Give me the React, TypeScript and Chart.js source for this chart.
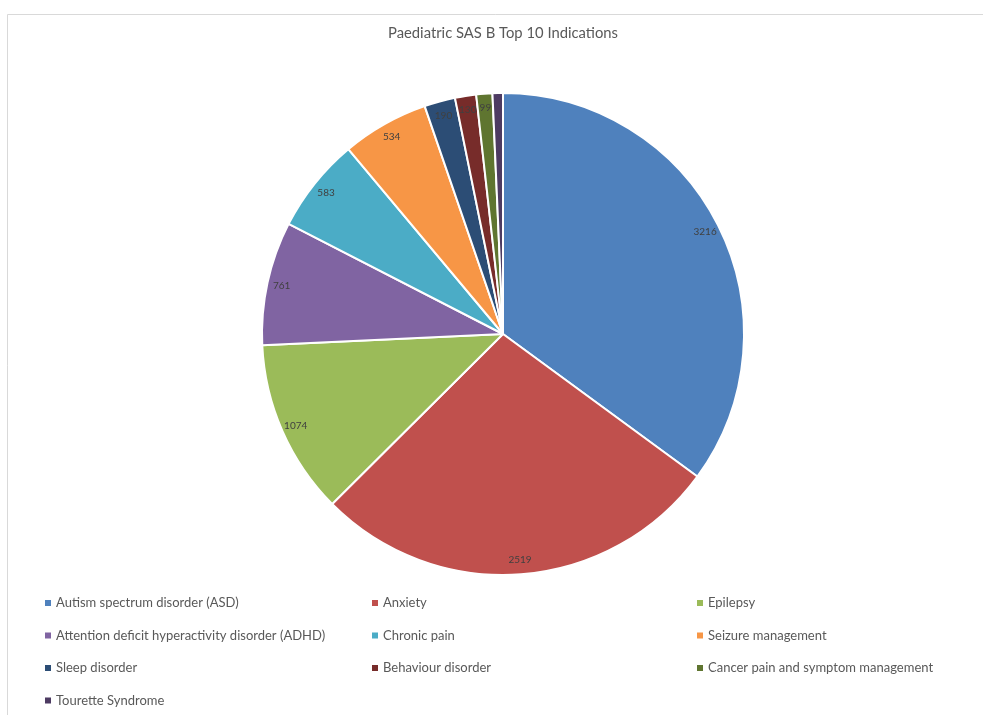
import React, { useEffect, useRef } from "react";
import { Chart, registerables } from "chart.js";

Chart.register(...registerables);

const TITLE = "Paediatric SAS B Top 10 Indications";
const categories = [
  "Autism spectrum disorder (ASD)",
  "Anxiety",
  "Epilepsy",
  "Attention deficit hyperactivity disorder (ADHD)",
  "Chronic pain",
  "Seizure management",
  "Sleep disorder",
  "Behaviour disorder",
  "Cancer pain and symptom management",
  "Tourette Syndrome",
];
const values = [3216, 2519, 1074, 761, 583, 534, 190, 130, 99, 64];
const colors = [
  "#4F81BD",
  "#C0504D",
  "#9BBB59",
  "#8064A2",
  "#4BACC6",
  "#F79646",
  "#2C4D75",
  "#772C2A",
  "#5F7530",
  "#4D3B62",
];
const showLabel = [true, true, true, true, true, true, true, true, true, false];

const FONT = "Lato, 'Open Sans', sans-serif";

const overlayPlugin = {
  id: "overlay",
  beforeDraw(chart: any) {
    const ctx = chart.ctx;
    ctx.save();
    ctx.fillStyle = "#ffffff";
    ctx.fillRect(0, 0, chart.width, chart.height);
    ctx.strokeStyle = "#d9d9d9";
    ctx.lineWidth = 1;
    ctx.beginPath();
    ctx.moveTo(7.5, chart.height + 2);
    ctx.lineTo(7.5, 14.5);
    ctx.lineTo(chart.width + 2, 14.5);
    ctx.stroke();
    ctx.restore();
  },
  afterDraw(chart: any) {
    const ctx = chart.ctx;
    ctx.save();
    // title
    ctx.fillStyle = "#595959";
    ctx.font = `14.8px ${FONT}`;
    ctx.textAlign = "center";
    ctx.textBaseline = "middle";
    ctx.fillText(TITLE, 503, 33);

    // data labels
    const meta = chart.getDatasetMeta(0);
    ctx.font = `10px ${FONT}`;
    ctx.fillStyle = "#404040";
    meta.data.forEach((arc: any, i: number) => {
      if (!showLabel[i]) return;
      const p = arc.getProps(["x", "y", "startAngle", "endAngle", "outerRadius"], true);
      const mid = (p.startAngle + p.endAngle) / 2;
      const r = p.outerRadius * 0.94;
      ctx.fillText(String(chart.data.datasets[0].data[i]), p.x + Math.cos(mid) * r, p.y + Math.sin(mid) * r);
    });

    // legend
    const colX = [45, 372, 697];
    const rowY = [603, 635.5, 668, 700.5];
    ctx.font = `13px ${FONT}`;
    ctx.textAlign = "left";
    const labels = chart.data.labels as string[];
    labels.forEach((lab, i) => {
      const c = i % 3;
      const r = Math.floor(i / 3);
      const x = colX[c];
      const y = rowY[r];
      ctx.fillStyle = chart.data.datasets[0].backgroundColor[i];
      ctx.fillRect(x, y - 3, 6, 6);
      ctx.fillStyle = "#595959";
      ctx.fillText(lab, x + 11, y);
    });
    ctx.restore();
  },
};

export default function App() {
  const ref = useRef<HTMLCanvasElement>(null);
  useEffect(() => {
    document.body.style.margin = "0";
    const chart = new Chart(ref.current as HTMLCanvasElement, {
      type: "pie",
      data: {
        labels: categories,
        datasets: [
          {
            data: values,
            backgroundColor: colors,
            borderColor: "#ffffff",
            borderWidth: 2,
          },
        ],
      },
      options: {
        responsive: false,
        animation: false,
        layout: { padding: { top: 92, bottom: 139, left: 261, right: 238 } },
        plugins: {
          legend: { display: false },
          title: { display: false },
          tooltip: { enabled: false },
        },
      },
      plugins: [overlayPlugin],
    });
    return () => chart.destroy();
  }, []);
  return (
    <div style={{ width: 983, height: 715 }}>
      <canvas ref={ref} width={983} height={715} style={{ display: "block" }} />
    </div>
  );
}
